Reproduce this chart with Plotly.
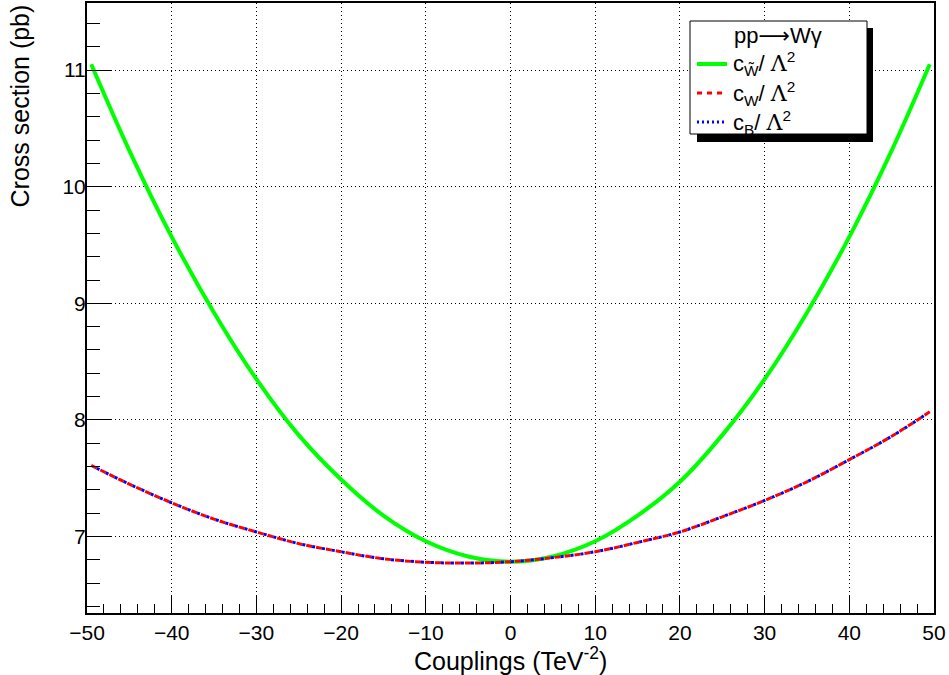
import plotly.graph_objects as go

# ---- data ----
couplings = [-49.5, -45, -40, -35, -30, -25, -20, -15, -10, -5, 0,
             5, 10, 15, 20, 25, 30, 35, 40, 45, 49.5]
xsec_cWtilde = [11.05, 10.31, 9.57, 8.92, 8.35, 7.87, 7.49, 7.18, 6.96, 6.83, 6.785,
                6.83, 6.96, 7.18, 7.47, 7.87, 8.35, 8.92, 9.57, 10.31, 11.05]
xsec_cW = [7.61, 7.45, 7.29, 7.15, 7.04, 6.94, 6.87, 6.81, 6.78, 6.773, 6.785,
           6.82, 6.87, 6.95, 7.04, 7.17, 7.31, 7.47, 7.66, 7.86, 8.07]
xsec_cB = [7.61, 7.45, 7.29, 7.15, 7.04, 6.94, 6.87, 6.81, 6.78, 6.773, 6.785,
           6.82, 6.87, 6.95, 7.04, 7.17, 7.31, 7.47, 7.66, 7.86, 8.07]

x_ticks = [-50, -40, -30, -20, -10, 0, 10, 20, 30, 40, 50]
y_ticks = [7, 8, 9, 10, 11]

LAM = '<span style="font-family:DejaVu Serif">\u039b</span>'
legend_header = 'pp<span style="font-family:DejaVu Sans">\u27f6</span>W\u03b3'
legend_labels = ["c<sub>W\u0303</sub>/ " + LAM + "<sup>2</sup>",
                 "c<sub>W</sub>/ " + LAM + "<sup>2</sup>",
                 "c<sub>B</sub>/ " + LAM + "<sup>2</sup>"]

FONT = "Liberation Sans, Arial, Helvetica, sans-serif"
W, H = 949, 675
L, R, T, B = 87, 15, 3, 62
PW, PH = W - L - R, H - T - B


def px(xp):
    return (xp - L) / PW


def py(yp):
    return (H - B - yp) / PH


fig = go.Figure()
fig.add_trace(go.Scatter(x=couplings, y=xsec_cWtilde, mode="lines",
                         line=dict(color="#00ff00", width=4, shape="spline"),
                         showlegend=False))
fig.add_trace(go.Scatter(x=couplings, y=xsec_cW, mode="lines",
                         line=dict(color="#ff0000", width=3, dash="6px,4px", shape="spline"),
                         showlegend=False))
fig.add_trace(go.Scatter(x=couplings, y=xsec_cB, mode="lines",
                         line=dict(color="#0000ff", width=3, dash="0px,6px,3px,1px",
                                   shape="spline"),
                         showlegend=False))

axis_common = dict(
    showline=True, linecolor="black", linewidth=2, mirror=True,
    ticks="inside", tickcolor="black", tickwidth=1,
    showgrid=True, gridcolor="black", gridwidth=1, griddash="1px,3px",
    zeroline=False,
    tickfont=dict(family=FONT, size=21, color="black"),
)

fig.update_xaxes(range=[-50, 50], tickvals=x_ticks, ticklen=18,
                 minor=dict(dtick=2, tick0=0, ticks="inside", ticklen=9,
                            tickcolor="black", tickwidth=1, showgrid=False),
                 **axis_common)
fig.update_yaxes(range=[6.345, 11.575], tickvals=y_ticks, ticklen=25,
                 ticklabelstandoff=-5,
                 minor=dict(dtick=0.2, tick0=0, ticks="inside", ticklen=13,
                            tickcolor="black", tickwidth=1, showgrid=False),
                 **axis_common)

# axis titles
fig.add_annotation(text="Couplings (TeV<sup>-2</sup>)", xref="paper", yref="paper",
                   x=0.5, y=py(659), xanchor="center", yanchor="middle",
                   showarrow=False, font=dict(family=FONT, size=25, color="black"))
fig.add_annotation(text="Cross section (pb)", xref="paper", yref="paper",
                   x=px(19), y=py(3), xanchor="center", yanchor="top", textangle=-90,
                   showarrow=False, font=dict(family=FONT, size=25, color="black"))

# legend box (ROOT style with shadow)
shapes = [
    dict(type="rect", xref="paper", yref="paper", x0=px(697), x1=px(873),
         y0=py(142), y1=py(28), fillcolor="black", line=dict(width=0), layer="above"),
    dict(type="rect", xref="paper", yref="paper", x0=px(690), x1=px(867),
         y0=py(134), y1=py(21), fillcolor="white", line=dict(color="black", width=1),
         layer="above"),
    dict(type="line", xref="paper", yref="paper", x0=px(697), x1=px(727),
         y0=py(64), y1=py(64), line=dict(color="#00ff00", width=4), layer="above"),
    dict(type="line", xref="paper", yref="paper", x0=px(697), x1=px(727),
         y0=py(93), y1=py(93), line=dict(color="#ff0000", width=3, dash="5px,5px"),
         layer="above"),
    dict(type="line", xref="paper", yref="paper", x0=px(697), x1=px(727),
         y0=py(122), y1=py(122), line=dict(color="#0000ff", width=3, dash="2px,3px"),
         layer="above"),
]
fig.update_layout(shapes=shapes)

fig.add_annotation(text=legend_header, xref="paper", yref="paper",
                   x=px(778), y=py(35), xanchor="center", yanchor="middle",
                   showarrow=False, font=dict(family=FONT, size=22, color="black"))
for lbl, yy in zip(legend_labels, [64, 93, 122]):
    fig.add_annotation(text=lbl, xref="paper", yref="paper",
                       x=px(731), y=py(yy), xanchor="left", yanchor="middle",
                       showarrow=False, font=dict(family=FONT, size=22, color="black"))

fig.update_layout(
    width=W, height=H,
    margin=dict(l=L, r=R, t=T, b=B, autoexpand=False),
    paper_bgcolor="white", plot_bgcolor="white",
    showlegend=False,
)

fig.write_html("out.html",
               config={"displayModeBar": False, "staticPlot": True},
               post_script="document.body.style.margin='0px';"
                           "document.body.style.padding='0px';"
                           "document.body.style.overflow='hidden';")
